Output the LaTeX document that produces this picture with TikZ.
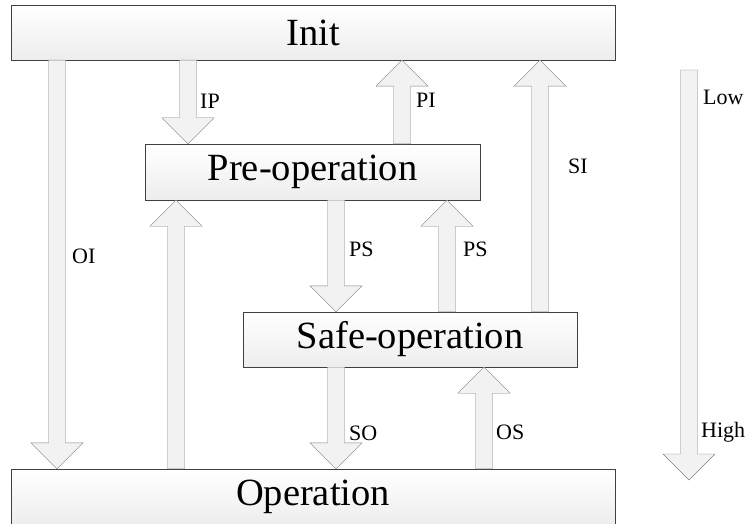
\documentclass[tikz,border=0pt]{standalone}
\usepackage{fontspec}
\setmainfont{Liberation Serif}
\usetikzlibrary{positioning,calc}
\tikzstyle{statebox}=[draw=black!75,top color=white,bottom color=black!7,inner sep=0pt,font=\fontsize{38.5}{40}\selectfont]
\tikzstyle{blockarrow}=[draw=gray,fill=black!5,line join=miter]
\tikzstyle{arrlabel}=[anchor=base west,inner sep=0pt,font=\fontsize{22}{24}\selectfont]
\newcommand{\statearrow}[2]{%
  \draw[blockarrow] let \p1=(#1), \p2=(#2), \n1={sign(\y2-\y1)} in
    ({\x1-8.5pt},\y1) -- ({\x1-8.5pt},{\y2-\n1*26pt}) -- ({\x1-26pt},{\y2-\n1*26pt})
    -- (\x1,\y2) -- ({\x1+26pt},{\y2-\n1*26pt}) -- ({\x1+8.5pt},{\y2-\n1*26pt})
    -- ({\x1+8.5pt},\y1) -- cycle;}

\begin{document}
\begin{tikzpicture}[x=1pt,y=-1pt]
  \useasboundingbox (0,0) rectangle (746,524);

  \node[statebox,minimum width=604pt,minimum height=55pt] (init) at (313,32.5) {Init};
  \node[statebox,minimum width=335pt,minimum height=56pt] (preop) at (312.5,172) {Pre-operation};
  \node[statebox,minimum width=334pt,minimum height=55pt] (safeop) at (410,339.5) {Safe-operation};
  \node[statebox,minimum width=604pt,minimum height=56pt] (oper) at (313,497) {Operation};

  \coordinate (xOI) at (57,0);
  \coordinate (xIP) at (188,0);
  \coordinate (xOP) at (176,0);
  \coordinate (xPI) at (402,0);
  \coordinate (xSI) at (540,0);
  \coordinate (xPSd) at (336,0);
  \coordinate (xPSu) at (447,0);
  \coordinate (xOS) at (484,0);
  \coordinate (low) at (689,70);
  \coordinate (high) at (689,480);

  \statearrow{init.south -| xOI}{oper.north -| xOI}
  \statearrow{init.south -| xIP}{preop.north -| xIP}
  \statearrow{oper.north -| xOP}{preop.south -| xOP}
  \statearrow{preop.north -| xPI}{init.south -| xPI}
  \statearrow{safeop.north -| xSI}{init.south -| xSI}
  \statearrow{preop.south -| xPSd}{safeop.north -| xPSd}
  \statearrow{safeop.north -| xPSu}{preop.south -| xPSu}
  \statearrow{safeop.south -| xPSd}{oper.north -| xPSd}
  \statearrow{oper.north -| xOS}{safeop.south -| xOS}
  \statearrow{low}{high}

  \node[arrlabel] (lOI) at (72,263) {OI};
  \node[arrlabel] (lIP) at (200,109) {IP};
  \node[arrlabel] (lPI) at (416,108) {PI};
  \node[arrlabel] (lSI) at (568,173) {SI};
  \node[arrlabel] (lPSd) at (349,256) {PS};
  \node[arrlabel] (lPSu) at (463,256) {PS};
  \node[arrlabel] (lSO) at (349,440) {SO};
  \node[arrlabel] (lOS) at (496,439) {OS};
  \node[arrlabel] (lLow) at (703,105) {Low};
  \node[arrlabel] (lHigh) at (701,437) {High};
\end{tikzpicture}
\end{document}
